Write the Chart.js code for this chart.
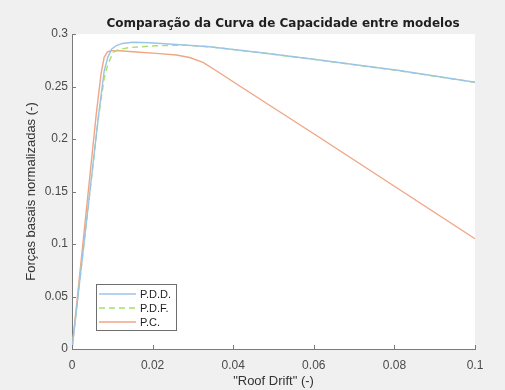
<!DOCTYPE html>
<html>
<head>
<meta charset="utf-8">
<script src="https://cdn.jsdelivr.net/npm/chart.js@4.4.1/dist/chart.umd.min.js"></script>
<style>
  html, body { margin: 0; padding: 0; background: #f0f0f0; }
  #wrap { width: 505px; height: 390px; position: relative; }
</style>
</head>
<body>
<div id="wrap"><canvas id="chart"></canvas></div>
<script>
const titleText = 'Comparação da Curva de Capacidade entre modelos';
const xTitle = '"Roof Drift" (-)';
const yTitle = 'Forças basais normalizadas (-)';
const seriesNames = ['P.D.D.', 'P.D.F.', 'P.C.'];

// P.D.D.
const driftPDD = [0, 0.0066, 0.008, 0.0089, 0.0098, 0.011, 0.0125, 0.0151, 0.0192, 0.025, 0.0341, 0.0465, 0.06, 0.0812, 0.1];
const forcePDD = [0, 0.223, 0.265, 0.278, 0.2856, 0.289, 0.291, 0.2922, 0.2917, 0.2902, 0.2878, 0.2824, 0.276, 0.2652, 0.254];

// P.D.F.
const driftPDF = [0, 0.0066, 0.008, 0.0089, 0.0102, 0.0115, 0.0143, 0.0209, 0.0275, 0.03, 0.0341, 0.0465, 0.06, 0.0812, 0.1];
const forcePDF = [0, 0.222, 0.258, 0.2713, 0.2824, 0.2852, 0.2871, 0.2888, 0.2894, 0.2889, 0.2878, 0.2824, 0.2758, 0.265, 0.254];

// P.C.
const driftPC = [0, 0.006, 0.0072, 0.008, 0.0088, 0.0098, 0.0118, 0.016, 0.0209, 0.0259, 0.0292, 0.0325, 0.0358, 0.0441, 0.06, 0.08, 0.1];
const forcePC = [0, 0.223, 0.262, 0.278, 0.283, 0.284, 0.284, 0.2828, 0.2815, 0.28, 0.2776, 0.2729, 0.265, 0.2443, 0.205, 0.155, 0.105];

const colors = ['#9cc3e8', '#a6e26a', '#f0a585'];
const font = '"Liberation Sans", Arial, Helvetica, sans-serif';

const toPoints = (xs, ys) => xs.map((x, i) => ({ x: x, y: ys[i] }));
const fmt = (v) => String(parseFloat(v.toFixed(2)));

// white plot area, inward ticks, title and legend box
const matlabLook = {
  id: 'matlabLook',
  beforeDraw(chart) {
    const { ctx, chartArea: a } = chart;
    ctx.save();
    ctx.fillStyle = '#ffffff';
    ctx.fillRect(a.left, a.top, a.right - a.left, a.bottom - a.top);
    ctx.restore();
  },
  afterDraw(chart) {
    const { ctx, chartArea: a, scales } = chart;
    ctx.save();
    ctx.strokeStyle = '#7a7a7a';
    ctx.lineWidth = 1;
    ctx.beginPath();
    scales.x.ticks.forEach((t) => {
      const px = Math.round(scales.x.getPixelForValue(t.value)) + 0.5;
      ctx.moveTo(px, a.bottom);
      ctx.lineTo(px, a.bottom - 4);
    });
    scales.y.ticks.forEach((t) => {
      const py = Math.round(scales.y.getPixelForValue(t.value)) + 0.5;
      ctx.moveTo(a.left, py);
      ctx.lineTo(a.left + 4, py);
    });
    ctx.stroke();

    // title
    ctx.fillStyle = '#1f1f1f';
    ctx.font = 'bold 12px "DejaVu Sans", sans-serif';
    ctx.textAlign = 'center';
    ctx.textBaseline = 'alphabetic';
    ctx.fillText(titleText, 283, 26.5);

    // legend
    const bx = 96.5, by = 284.5, bw = 80, bh = 46;
    ctx.fillStyle = '#ffffff';
    ctx.fillRect(bx, by, bw, bh);
    ctx.strokeStyle = '#6e6e6e';
    ctx.strokeRect(bx, by, bw, bh);
    ctx.font = '11px ' + font;
    ctx.textAlign = 'left';
    ctx.textBaseline = 'middle';
    chart.data.datasets.forEach((ds, i) => {
      const ly = 294 + i * 14;
      ctx.strokeStyle = ds.borderColor;
      ctx.lineWidth = 1.5;
      ctx.setLineDash(ds.borderDash || []);
      ctx.beginPath();
      ctx.moveTo(99, ly);
      ctx.lineTo(136, ly);
      ctx.stroke();
      ctx.setLineDash([]);
      ctx.fillStyle = '#1f1f1f';
      ctx.fillText(ds.label, 140, ly + 0.5);
    });
    ctx.restore();
  },
};

const data = {
  datasets: [
    {
      label: seriesNames[0],
      data: toPoints(driftPDD, forcePDD),
      borderColor: colors[0],
      borderWidth: 1.4,
    },
    {
      label: seriesNames[1],
      data: toPoints(driftPDF, forcePDF),
      borderColor: colors[1],
      borderWidth: 1.4,
      borderDash: [6, 4],
    },
    {
      label: seriesNames[2],
      data: toPoints(driftPC, forcePC),
      borderColor: colors[2],
      borderWidth: 1.4,
    },
  ],
};

const config = {
  type: 'line',
  data: data,
  options: {
    responsive: true,
    maintainAspectRatio: false,
    animation: false,
    layout: {
      padding: { top: 34, right: 30, left: 0, bottom: 0 },
    },
    elements: {
      point: { radius: 0 },
      line: { tension: 0, fill: false },
    },
    plugins: {
      legend: { display: false },
      title: { display: false },
      tooltip: { enabled: false },
    },
    scales: {
      x: {
        type: 'linear',
        min: 0,
        max: 0.1,
        afterFit: (s) => { s.height = 41; },
        border: { color: '#7a7a7a', width: 1 },
        grid: { display: false, drawTicks: false },
        ticks: {
          stepSize: 0.02,
          color: '#4a4a4a',
          padding: 9,
          maxRotation: 0,
          font: { family: font, size: 12 },
          callback: (v) => fmt(v),
        },
        title: {
          display: true,
          text: xTitle,
          color: '#333333',
          font: { family: font, size: 13 },
          padding: { top: 0, bottom: 1 },
        },
      },
      y: {
        type: 'linear',
        min: 0,
        max: 0.3,
        afterFit: (s) => { s.width = 72; },
        border: { color: '#7a7a7a', width: 1 },
        grid: { display: false, drawTicks: false },
        ticks: {
          stepSize: 0.05,
          color: '#4a4a4a',
          padding: 4,
          font: { family: font, size: 12 },
          callback: (v) => fmt(v),
        },
        title: {
          display: true,
          text: yTitle,
          color: '#333333',
          font: { family: font, size: 13 },
          padding: { top: 24, bottom: 0 },
        },
      },
    },
  },
  plugins: [matlabLook],
};

new Chart(document.getElementById('chart'), config);
</script>
</body>
</html>
